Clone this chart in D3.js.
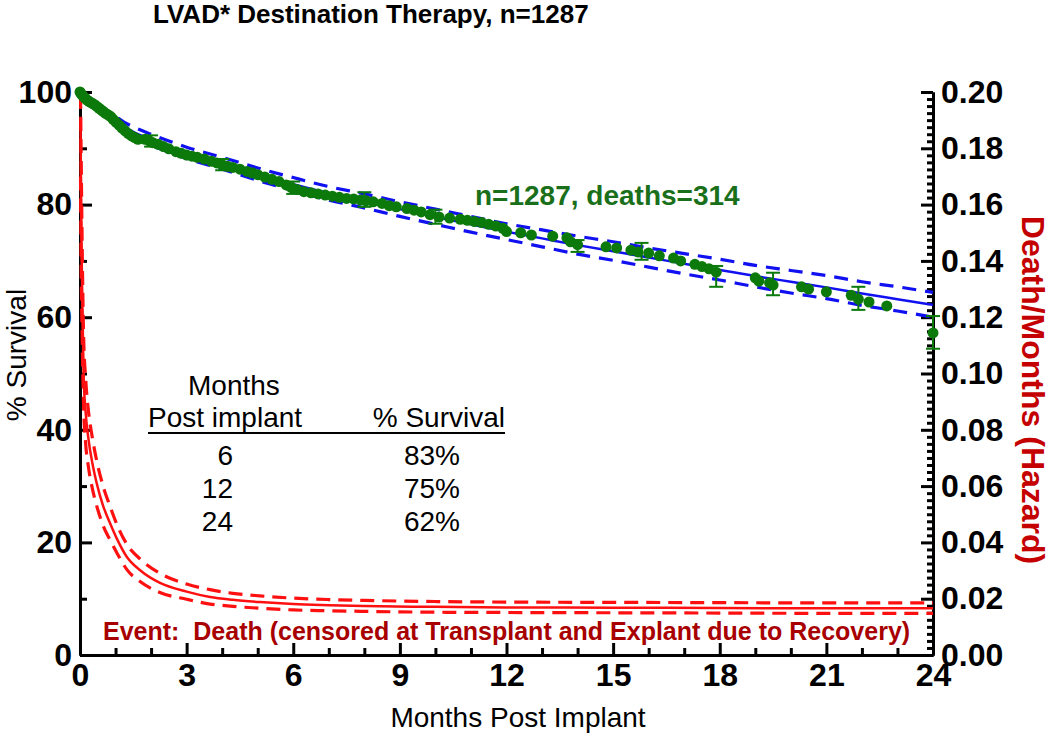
<!DOCTYPE html>
<html><head><meta charset="utf-8">
<script src="https://cdn.jsdelivr.net/npm/d3@7"></script>
<style>
body{margin:0;background:#fff;}
text{font-family:Arial,"Liberation Sans",sans-serif;}
</style>
</head><body>
<svg id="c" width="1050" height="740"></svg>
<script>
// ---- Data ----
const kmMonths = [0,0.03,0.07,0.11,0.16,0.21,0.26,0.31,0.37,0.42,0.48,0.54,0.6,0.66,0.72,0.8,0.87,0.94,1.02,1.1,1.18,1.27,1.36,1.45,1.54,1.63,
  1.83,1.95,2.05,2.2,2.35,2.5,2.7,2.85,3.0,3.15,3.3,3.5,3.7,3.85,4.0,4.15,4.3,4.5,4.7,4.85,5.0,5.2,5.4,5.6,5.8,5.95,
  6.1,6.3,6.5,6.7,6.9,7.1,7.3,7.5,7.7,7.9,8.05,8.25,8.5,8.7,8.9,9.2,9.4,9.6,9.85,10.1,10.4,10.7,10.9,11.1,11.3,11.5,11.7,11.9,
  12.0,12.4,12.7,13.3,13.7,13.8,14.0,14.8,15.1,15.5,15.7,16.0,16.3,16.7,16.9,17.3,17.5,17.7,17.9,19.0,19.1,19.4,19.5,20.3,20.5,21.0,21.7,21.9,22.2,22.7,24.0];
const kmSurvival = [100,99.7,99.4,99.1,98.8,98.5,98.3,98.1,97.9,97.7,97.4,97.1,96.8,96.5,96.2,95.9,95.6,95.1,94.6,94.1,93.6,93.1,92.6,92.2,91.9,91.6,
  91.6,91.3,91.0,90.7,90.3,89.9,89.4,89.1,88.8,88.6,88.4,88.1,87.7,87.4,87.1,86.8,86.6,86.3,85.9,85.6,85.3,84.9,84.5,84.1,83.5,83.0,
  82.7,82.3,82.1,81.9,81.7,81.5,81.3,81.1,81.0,80.8,80.7,80.5,80.2,79.8,79.6,79.3,79.0,78.7,78.2,77.8,77.6,77.4,77.2,77.0,76.8,76.5,76.2,75.8,
  75.2,75.0,74.6,74.4,74.1,73.4,72.9,72.5,72.3,71.9,71.6,71.4,70.9,70.5,70.0,69.4,69.0,68.6,68.0,67.0,66.4,66.1,65.7,65.4,65.0,64.5,63.9,63.2,62.7,62.0,57.2];

const errMonths = [2.0,4.0,6.0,8.0,10.0,14.0,15.8,17.9,19.5,21.9,24.0];
const errLow    = [90.3,86.1,81.9,79.6,76.6,71.6,70.2,65.4,63.9,61.3,54.4];
const errHigh   = [92.3,88.1,84.1,82.2,79.1,73.7,73.2,69.1,67.9,65.4,60.2];

const fitMonths   = [0,0.25,0.5,0.75,1,1.25,1.5,2,2.5,3,4,5,6,7,8,9,10,11,12,13,14,15,16,17,18,19,20,21,22,23,24];
const fitSurvival = [100,98.7,97.4,96.1,94.9,93.8,92.9,91.5,90.3,89.2,87.3,85.4,83.6,82.0,80.6,79.2,77.8,76.5,75.2,74.0,72.8,71.7,70.6,69.5,68.4,67.3,66.3,65.3,64.2,63.2,62.2];
const fitUpper    = [100,99.1,98.0,96.8,95.7,94.6,93.8,92.5,91.3,90.2,88.4,86.5,84.8,83.2,81.9,80.5,79.2,77.9,76.6,75.5,74.4,73.4,72.3,71.3,70.3,69.2,68.3,67.4,66.3,65.4,64.4];
const fitLower    = [100,98.3,96.8,95.4,94.1,93.0,92.0,90.6,89.3,88.2,86.3,84.3,82.5,80.8,79.4,77.9,76.5,75.1,73.8,72.5,71.2,70.1,68.9,67.7,66.6,65.4,64.3,63.3,62.1,61.1,60.0];

const hazMonths = [0.015,0.03,0.06,0.1,0.16,0.235,0.35,0.47,0.65,0.84,1.05,1.31,1.7,2.25,3,3.66,4.3,5.06,6,7,8,10,12,15,18,21,24];
const hazard    = [0.19,0.16,0.13,0.10,0.086,0.077,0.068,0.061,0.053,0.047,0.041,0.035,0.030,0.0256,0.0225,0.0206,0.0196,0.0188,0.0181,0.0177,0.0174,0.0171,0.0169,0.0168,0.0167,0.0166,0.0166];
const hazUpper  = [0.199,0.18,0.147,0.114,0.098,0.087,0.077,0.069,0.060,0.053,0.046,0.0395,0.034,0.029,0.0252,0.0232,0.0219,0.021,0.0202,0.0197,0.0194,0.019,0.0188,0.0187,0.0186,0.0185,0.0185];
const hazLower  = [0.17,0.142,0.114,0.089,0.075,0.067,0.059,0.053,0.046,0.041,0.036,0.0305,0.026,0.0222,0.0198,0.0181,0.0173,0.0166,0.016,0.0157,0.0155,0.0152,0.0151,0.015,0.0149,0.0148,0.0148];

const xTicks = [0,3,6,9,12,15,18,21,24];
const xMinor = [1,2,4,5,7,8,10,11,13,14,16,17,19,20,22,23];
const yTicks = [0,20,40,60,80,100];
const yMinor = [10,30,50,70,90];
const hTicks = [0,0.02,0.04,0.06,0.08,0.10,0.12,0.14,0.16,0.18,0.20];

const tableMonths   = ["6","12","24"];
const tableSurvival = ["83%","75%","62%"];

// ---- Drawing ----
const svg = d3.select("#c");
const x  = d3.scaleLinear().domain([0,24]).range([80,933]);
const y  = d3.scaleLinear().domain([0,100]).range([655,92]);
const yh = d3.scaleLinear().domain([0,0.2]).range([655,92]);

const FF = "Arial, 'Liberation Sans', sans-serif";
const tickFont = "bold 32px " + FF;

function styleAxis(g, font){
  g.select(".domain").attr("stroke","#000").attr("stroke-width",3);
  g.selectAll(".tick line").attr("stroke","#000").attr("stroke-width",3);
  g.selectAll(".tick text").style("font", font).attr("fill","#000");
}

// minor ticks
const gLm = svg.append("g").attr("transform","translate(80,0)")
  .call(d3.axisLeft(y).tickValues(yMinor).tickSizeInner(-7).tickSizeOuter(0).tickFormat(""));
styleAxis(gLm, tickFont);
const gBm = svg.append("g").attr("transform","translate(0,655)")
  .call(d3.axisBottom(x).tickValues(xMinor).tickSizeInner(-7).tickSizeOuter(0).tickFormat(""));
styleAxis(gBm, tickFont);
const hMinor = d3.range(0, 81).map(i => i*0.0025).filter(v => Math.abs(v/0.02 - Math.round(v/0.02)) > 1e-6);
const gRm = svg.append("g").attr("transform","translate(933,0)")
  .call(d3.axisRight(yh).tickValues(hMinor).tickSizeInner(-6).tickSizeOuter(0).tickFormat(""));
styleAxis(gRm, tickFont);

// major axes
const gL = svg.append("g").attr("transform","translate(80,0)")
  .call(d3.axisLeft(y).tickValues(yTicks).tickSizeInner(-12).tickSizeOuter(0).tickPadding(8).tickFormat(d3.format("d")));
styleAxis(gL, tickFont);
const gB = svg.append("g").attr("transform","translate(0,655)")
  .call(d3.axisBottom(x).tickValues(xTicks).tickSizeInner(-12).tickSizeOuter(0).tickPadding(8).tickFormat(d3.format("d")));
styleAxis(gB, tickFont);
const gR = svg.append("g").attr("transform","translate(933,0)")
  .call(d3.axisRight(yh).tickValues(hTicks).tickSizeInner(-12).tickSizeOuter(0).tickPadding(8).tickFormat(d3.format(".2f")));
styleAxis(gR, tickFont);

// clip
svg.append("clipPath").attr("id","plotclip").append("rect")
  .attr("x",78).attr("y",80).attr("width",857).attr("height",576);
const plot = svg.append("g").attr("clip-path","url(#plotclip)");

const lineS = d3.line().x(d=>x(d[0])).y(d=>y(d[1])).curve(d3.curveMonotoneX);
const lineH = d3.line().x(d=>x(d[0])).y(d=>yh(d[1])).curve(d3.curveMonotoneX);

// hazard (red)
plot.append("path").datum(d3.zip(hazMonths,hazUpper)).attr("d",lineH)
  .attr("fill","none").attr("stroke","#ff1010").attr("stroke-width",3.2).attr("stroke-dasharray","14,8");
plot.append("path").datum(d3.zip(hazMonths,hazLower)).attr("d",lineH)
  .attr("fill","none").attr("stroke","#ff1010").attr("stroke-width",3.2).attr("stroke-dasharray","14,8");
plot.append("path").datum(d3.zip(hazMonths,hazard)).attr("d",lineH)
  .attr("fill","none").attr("stroke","#ff1010").attr("stroke-width",2.5);

// survival fit (blue)
plot.append("path").datum(d3.zip(fitMonths,fitUpper)).attr("d",lineS)
  .attr("fill","none").attr("stroke","#1010f0").attr("stroke-width",3.2).attr("stroke-dasharray","14,9");
plot.append("path").datum(d3.zip(fitMonths,fitLower)).attr("d",lineS)
  .attr("fill","none").attr("stroke","#1010f0").attr("stroke-width",3.2).attr("stroke-dasharray","14,9");
plot.append("path").datum(d3.zip(fitMonths,fitSurvival)).attr("d",lineS)
  .attr("fill","none").attr("stroke","#1010f0").attr("stroke-width",2.5);

// error bars
const green = "#0b7a0b";
const eb = svg.append("g").attr("stroke",green).attr("stroke-width",2);
errMonths.forEach((m,i)=>{
  const cx = x(m);
  eb.append("line").attr("x1",cx).attr("x2",cx).attr("y1",y(errLow[i])).attr("y2",y(errHigh[i]));
  eb.append("line").attr("x1",cx-7).attr("x2",cx+7).attr("y1",y(errLow[i])).attr("y2",y(errLow[i]));
  eb.append("line").attr("x1",cx-7).attr("x2",cx+7).attr("y1",y(errHigh[i])).attr("y2",y(errHigh[i]));
});

// KM points
svg.append("g").selectAll("circle").data(d3.zip(kmMonths,kmSurvival)).join("circle")
  .attr("cx",d=>x(d[0])).attr("cy",d=>y(d[1])).attr("r",5.5).attr("fill",green);

// texts
svg.append("text").attr("x",153).attr("y",23)
  .style("font","bold 26px " + FF).text("LVAD* Destination Therapy, n=1287");
svg.append("text").attr("x",475).attr("y",205).attr("fill","#1a701a")
  .style("font","bold 28px " + FF).text("n=1287, deaths=314");
svg.append("text").attr("x",103).attr("y",640).attr("fill","#a80000").style("white-space","pre")
  .style("font","bold 25px " + FF)
  .text("Event:  Death (censored at Transplant and Explant due to Recovery)");
svg.append("text").attr("x",518).attr("y",727).attr("text-anchor","middle")
  .style("font","28px " + FF).text("Months Post Implant");
svg.append("text").attr("transform","translate(26,355) rotate(-90)").attr("text-anchor","middle")
  .style("font","28px " + FF).text("% Survival");
svg.append("text").attr("transform","translate(1022,390) rotate(90)").attr("text-anchor","middle")
  .attr("fill","#c40000")
  .style("font","bold 32px " + FF).text("Death/Months (Hazard)");

// table
const tf = "28px " + FF;
svg.append("text").attr("x",188).attr("y",395).style("font",tf).text("Months");
svg.append("text").attr("x",148).attr("y",427).style("font",tf).text("Post implant");
svg.append("text").attr("x",505).attr("y",427).attr("text-anchor","end").style("font",tf).text("% Survival");
svg.append("line").attr("x1",148).attr("x2",505).attr("y1",433).attr("y2",433).attr("stroke","#000").attr("stroke-width",1.8);
const rowY = [465,498,531];
tableMonths.forEach((t,i)=>{
  svg.append("text").attr("x",233).attr("y",rowY[i]).attr("text-anchor","end").style("font",tf).text(t);
  svg.append("text").attr("x",460).attr("y",rowY[i]).attr("text-anchor","end").style("font",tf).text(tableSurvival[i]);
});
</script>
</body></html>
